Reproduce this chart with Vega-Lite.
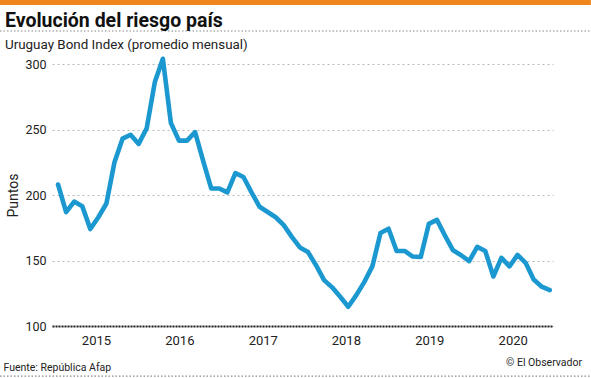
{
  "$schema": "https://vega.github.io/schema/vega-lite/v6.json",
  "autosize": {"type": "none"},
  "width": 501,
  "height": 262,
  "padding": {"left": 52, "top": 64, "right": 38, "bottom": 52},
  "background": "white",
  "title": {
    "text": "Evolución del riesgo país",
    "subtitle": "Uruguay Bond Index (promedio mensual)",
    "anchor": "start",
    "frame": "group",
    "dx": -47,
    "dy": 62,
    "offset": 10,
    "font": "Roboto",
    "fontSize": 19.5,
    "fontWeight": "bold",
    "color": "#111111",
    "subtitleFont": "Roboto",
    "subtitleFontSize": 13.4,
    "subtitleColor": "#222222",
    "subtitlePadding": 6
  },
  "config": {"view": {"stroke": null}, "font": "Roboto"},
  "layer": [
    {
      "data": {
        "values": [
          {"fecha": "2015-01", "i": 0, "puntos": 208},
          {"fecha": "2015-02", "i": 1, "puntos": 187},
          {"fecha": "2015-03", "i": 2, "puntos": 195},
          {"fecha": "2015-04", "i": 3, "puntos": 191.5},
          {"fecha": "2015-05", "i": 4, "puntos": 174},
          {"fecha": "2015-06", "i": 5, "puntos": 183},
          {"fecha": "2015-07", "i": 6, "puntos": 193.5},
          {"fecha": "2015-08", "i": 7, "puntos": 225},
          {"fecha": "2015-09", "i": 8, "puntos": 243},
          {"fecha": "2015-10", "i": 9, "puntos": 246},
          {"fecha": "2015-11", "i": 10, "puntos": 239},
          {"fecha": "2015-12", "i": 11, "puntos": 251},
          {"fecha": "2016-01", "i": 12, "puntos": 286},
          {"fecha": "2016-02", "i": 13, "puntos": 304},
          {"fecha": "2016-03", "i": 14, "puntos": 255},
          {"fecha": "2016-04", "i": 15, "puntos": 241.5},
          {"fecha": "2016-05", "i": 16, "puntos": 241.5},
          {"fecha": "2016-06", "i": 17, "puntos": 248},
          {"fecha": "2016-07", "i": 18, "puntos": 226},
          {"fecha": "2016-08", "i": 19, "puntos": 205},
          {"fecha": "2016-09", "i": 20, "puntos": 205},
          {"fecha": "2016-10", "i": 21, "puntos": 202},
          {"fecha": "2016-11", "i": 22, "puntos": 216.7},
          {"fecha": "2016-12", "i": 23, "puntos": 213.7},
          {"fecha": "2017-01", "i": 24, "puntos": 202},
          {"fecha": "2017-02", "i": 25, "puntos": 191},
          {"fecha": "2017-03", "i": 26, "puntos": 187},
          {"fecha": "2017-04", "i": 27, "puntos": 183},
          {"fecha": "2017-05", "i": 28, "puntos": 177},
          {"fecha": "2017-06", "i": 29, "puntos": 168},
          {"fecha": "2017-07", "i": 30, "puntos": 160},
          {"fecha": "2017-08", "i": 31, "puntos": 156.5},
          {"fecha": "2017-09", "i": 32, "puntos": 146.4},
          {"fecha": "2017-10", "i": 33, "puntos": 135},
          {"fecha": "2017-11", "i": 34, "puntos": 129.5},
          {"fecha": "2017-12", "i": 35, "puntos": 122.3},
          {"fecha": "2018-01", "i": 36, "puntos": 114.7},
          {"fecha": "2018-02", "i": 37, "puntos": 123.6},
          {"fecha": "2018-03", "i": 38, "puntos": 133.7},
          {"fecha": "2018-04", "i": 39, "puntos": 145.7},
          {"fecha": "2018-05", "i": 40, "puntos": 171},
          {"fecha": "2018-06", "i": 41, "puntos": 174.3},
          {"fecha": "2018-07", "i": 42, "puntos": 157.3},
          {"fecha": "2018-08", "i": 43, "puntos": 157.3},
          {"fecha": "2018-09", "i": 44, "puntos": 153},
          {"fecha": "2018-10", "i": 45, "puntos": 152.7},
          {"fecha": "2018-11", "i": 46, "puntos": 178},
          {"fecha": "2018-12", "i": 47, "puntos": 181},
          {"fecha": "2019-01", "i": 48, "puntos": 169},
          {"fecha": "2019-02", "i": 49, "puntos": 157.8},
          {"fecha": "2019-03", "i": 50, "puntos": 154},
          {"fecha": "2019-04", "i": 51, "puntos": 149.5},
          {"fecha": "2019-05", "i": 52, "puntos": 160.4},
          {"fecha": "2019-06", "i": 53, "puntos": 157.3},
          {"fecha": "2019-07", "i": 54, "puntos": 137.8},
          {"fecha": "2019-08", "i": 55, "puntos": 152},
          {"fecha": "2019-09", "i": 56, "puntos": 145.5},
          {"fecha": "2019-10", "i": 57, "puntos": 154.3},
          {"fecha": "2019-11", "i": 58, "puntos": 148.2},
          {"fecha": "2019-12", "i": 59, "puntos": 135.5},
          {"fecha": "2020-01", "i": 60, "puntos": 130},
          {"fecha": "2020-02", "i": 61, "puntos": 127.4}
        ]
      },
      "mark": {"type": "line", "color": "#1b98d0", "strokeWidth": 4.6, "strokeJoin": "round", "strokeCap": "round"},
      "encoding": {
        "x": {
          "field": "i",
          "type": "quantitative",
          "scale": {"domain": [-0.75, 61.4], "nice": false, "zero": false},
          "axis": {
            "values": [4.7, 15.05, 25.4, 35.7, 46.05, 56.4],
            "labelExpr": "'' + (2015 + round((datum.value - 4.7) / 10.34))",
            "grid": false,
            "ticks": false,
            "domainColor": "#222222",
            "domainWidth": 2,
            "domainDash": [2, 1],
            "labelFontSize": 13,
            "labelColor": "#222222",
            "labelPadding": 8,
            "labelFont": "Roboto",
            "title": "Fuente: República Afap",
            "titleAnchor": "start",
            "titleAlign": "left",
            "titleX": -49,
            "titleY": 44,
            "titleFontSize": 10.5,
            "titleFontWeight": "normal",
            "titleColor": "#222222",
            "titleBaseline": "alphabetic",
            "titleFont": "Roboto"
          }
        },
        "y": {
          "field": "puntos",
          "type": "quantitative",
          "scale": {"domain": [100, 300], "nice": false, "zero": false},
          "axis": {
            "values": [100, 150, 200, 250, 300],
            "grid": true,
            "gridColor": "#b8b8b8",
            "gridDash": [2, 3],
            "gridWidth": 1,
            "domain": false,
            "ticks": false,
            "labelFontSize": 12.5,
            "labelColor": "#222222",
            "labelPadding": 6,
            "labelFont": "Roboto",
            "title": "Puntos",
            "titleFontSize": 14,
            "titleFontWeight": "normal",
            "titleColor": "#222222",
            "titlePadding": 4,
            "titleFont": "Roboto"
          }
        }
      }
    },
    {
      "data": {"values": [{}]},
      "mark": {"type": "rule", "color": "#f0861b", "strokeWidth": 5},
      "encoding": {
        "x": {"datum": -7.2, "type": "quantitative", "scale": {"domain": [-0.75, 61.4], "nice": false, "zero": false}},
        "x2": {"datum": 66.1},
        "y": {"datum": 347, "type": "quantitative", "scale": {"domain": [100, 300], "nice": false, "zero": false}}
      }
    },
    {
      "data": {"values": [{}]},
      "mark": {"type": "rule", "color": "#888888", "strokeWidth": 1.2, "strokeDash": [1.5, 2]},
      "encoding": {
        "x": {"datum": -7.2, "type": "quantitative", "scale": {"domain": [-0.75, 61.4], "nice": false, "zero": false}},
        "x2": {"datum": 66.1},
        "y": {"datum": 325.2, "type": "quantitative", "scale": {"domain": [100, 300], "nice": false, "zero": false}}
      }
    },
    {
      "data": {"values": [{}]},
      "mark": {"type": "rule", "color": "#888888", "strokeWidth": 1.2, "strokeDash": [1.5, 2]},
      "encoding": {
        "x": {"datum": -7.2, "type": "quantitative", "scale": {"domain": [-0.75, 61.4], "nice": false, "zero": false}},
        "x2": {"datum": 66.1},
        "y": {"datum": 61.8, "type": "quantitative", "scale": {"domain": [100, 300], "nice": false, "zero": false}}
      }
    },
    {
      "data": {"values": [{}]},
      "mark": {"type": "text", "text": "© El Observador", "align": "right", "baseline": "alphabetic", "fontSize": 10.5, "color": "#222222", "font": "Roboto"},
      "encoding": {
        "x": {"datum": 65, "type": "quantitative", "scale": {"domain": [-0.75, 61.4], "nice": false, "zero": false}},
        "y": {"datum": 69.5, "type": "quantitative", "scale": {"domain": [100, 300], "nice": false, "zero": false}}
      }
    }
  ]
}
